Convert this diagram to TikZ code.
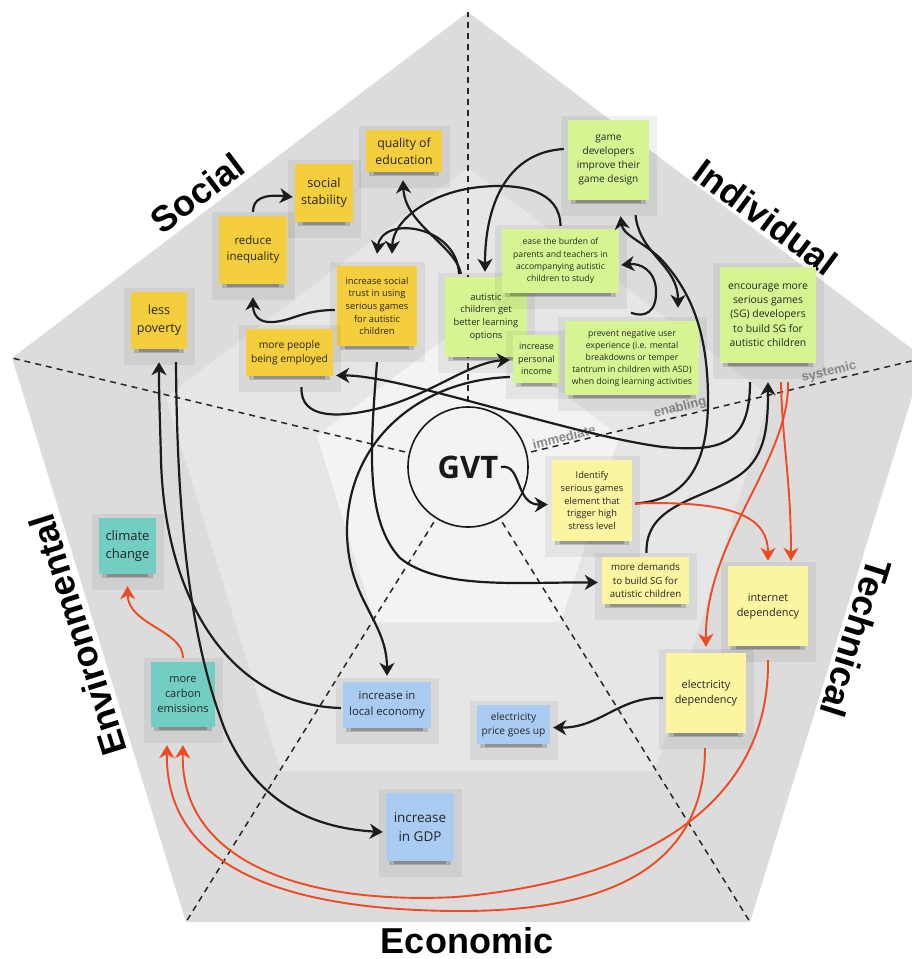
\documentclass[tikz,border=0pt]{standalone}
\usepackage{fontspec}
\setmainfont{Open Sans}
\newfontfamily\labfont{Liberation Sans}
\usetikzlibrary{arrows.meta,calc}
\definecolor{socc}{HTML}{F5CE3E}
\definecolor{indc}{HTML}{D6F592}
\definecolor{tecc}{HTML}{FBF4A0}
\definecolor{ecoc}{HTML}{AACBF2}
\definecolor{envc}{HTML}{72CDC3}
\definecolor{notetext}{HTML}{262626}
\definecolor{arrowblack}{HTML}{1C1C1C}
\definecolor{redline}{HTML}{F04A22}
\definecolor{bgouter}{HTML}{DCDCDC}
\definecolor{bgmid}{HTML}{E6E6E6}
\definecolor{bginner}{HTML}{F3F3F3}
\definecolor{lvlgray}{HTML}{8A8A8A}
\tikzset{
  notebox/.style={inner sep=1pt, align=center, text=notetext},
  blk/.style={line width=2.2pt, draw=arrowblack, -{Stealth[length=13pt,width=15pt,inset=4pt]}},
  redarr/.style={line width=1.9pt, draw=redline, -{Stealth[length=13pt,width=15pt,inset=4pt]}},
  dashline/.style={line width=1.5pt, draw=black!85, dash pattern=on 6pt off 5pt},
  biglab/.style={font=\labfont\bfseries\fontsize{36}{40}\selectfont, text=black, inner sep=0pt},
  lvl/.style={font=\labfont\bfseries\fontsize{13}{15}\selectfont, text=lvlgray, inner sep=0pt}
}
% name, x0, y0, x1, y1, colour, font size, baselineskip, text
\newcommand\stickynote[9]{%
  \fill[black,opacity=0.06] (#2-7,#3-4) rectangle (#4+8,#5+16);
  \fill[black,opacity=0.16] (#2+3,#5-1) rectangle (#4-3,#5+4);
  \fill[black,opacity=0.2] (#2+8,#5) rectangle (#4-8,#5+2.5);
  \node[notebox, fill=#6, minimum width={(#4-#2)*1pt}, minimum height={(#5-#3)*1pt},
        font={\fontsize{#7}{#8}\selectfont}] (#1) at ({(#2+#4)/2},{(#3+#5)/2}) {#9};
}
\begin{document}
\begin{tikzpicture}[x=1pt,y=-1pt]
\useasboundingbox (0,0) rectangle (912,959);
\clip (0,0) rectangle (912,959);
\fill[white] (0,0) rectangle (912,959);
% pentagons
\coordinate (vt) at (468,12);
\coordinate (vr) at (924,358);
\coordinate (vbr) at (750,922);
\coordinate (vbl) at (186,922);
\coordinate (vl) at (12,358);
\fill[bgouter] (vt) -- (vr) -- (vbr) -- (vbl) -- (vl) -- cycle;
\fill[bgmid] (468,168) -- (770,397) -- (655,771) -- (281,771) -- (166,397) -- cycle;
\fill[bginner] (468,321) -- (619,436) -- (561,622) -- (375,622) -- (317,436) -- cycle;
% GVT circle and dashed lines
\node[circle, draw=black!90, line width=1.6pt, minimum size=120pt, inner sep=0pt,
      font=\bfseries\fontsize{31}{34}\selectfont, text=black!90] (gvt) at (468,467) {GVT};
\foreach \v in {vt,vr,vbr,vbl,vl}{
  \draw[dashline] ($(gvt.center)!65pt!(\v)$) -- (\v);
}
\node[lvl, rotate=13.5] (limm) at (564,437) {immediate};
\node[lvl, rotate=13.5] (lena) at (680,408) {enabling};
\node[lvl, rotate=13.5] (lsys) at (829,372) {systemic};
% dimension labels
\node[biglab, rotate=37] (lsoc) at (197,193) {Social};
\node[biglab, rotate=-36.5] (lind) at (766,217) {Individual};
\node[biglab, rotate=-107.5] (ltec) at (856,638) {Technical};
\node[biglab, rotate=107.5] (lenv) at (78,635) {Environmental};
\node[biglab] (leco) at (467,941) {Economic};
% sticky notes
\stickynote{qual}{366}{130}{442}{172}{socc}{12.3}{17}{quality of\\education}
\stickynote{stab}{295}{164}{353}{222}{socc}{12.7}{17.3}{social\\stability}
\stickynote{ineq}{219}{216}{287}{284}{socc}{11.5}{16}{reduce\\inequality}
\stickynote{pov}{131}{292}{187}{349}{socc}{12.6}{18.3}{less\\poverty}
\stickynote{trust}{337}{266}{417}{346}{socc}{9.3}{12.7}{increase social\\trust in using\\serious games\\for autistic\\children}
\stickynote{empl}{246}{329}{333}{376}{socc}{10.3}{14}{more people\\being employed}
\stickynote{auti}{445}{277}{527}{357}{indc}{9.35}{12.7}{autistic\\children get\\better learning\\options}
\stickynote{inc}{513}{335}{560}{383}{indc}{9}{12.7}{increase\\personal\\income}
\stickynote{ease}{502}{229}{619}{293}{indc}{8.6}{12.3}{ease the burden of\\parents and teachers in\\accompanying autistic\\children to study}
\stickynote{gdev}{568}{120}{649}{200}{indc}{10.1}{14}{game\\developers\\improve their\\game design}
\stickynote{prev}{565}{321}{699}{395}{indc}{8.7}{12}{prevent negative user\\experience (i.e. mental\\breakdowns or temper\\tantrum in children with ASD)\\when doing learning activities}
\stickynote{enc}{720}{267}{816}{363}{indc}{10.4}{14.3}{encourage more\\serious games\\(SG) developers\\to build SG for\\autistic children}
\stickynote{ident}{552}{460}{632}{541}{tecc}{9.3}{12.7}{Identify\\serious games\\element that\\trigger high\\stress level}
\stickynote{dem}{602}{557}{689}{604}{tecc}{9.7}{13.3}{more demands\\to build SG for\\autistic children}
\stickynote{inet}{728}{566}{808}{646}{tecc}{10.9}{15.3}{internet\\dependency}
\stickynote{elec}{666}{653}{746}{733}{tecc}{10.9}{15.3}{electricity\\dependency}
\stickynote{price}{477}{705}{550}{744}{ecoc}{10.2}{14}{electricity\\price goes up}
\stickynote{local}{343}{682}{431}{728}{ecoc}{11.3}{16}{increase in\\local economy}
\stickynote{gdp}{386}{793}{454}{861}{ecoc}{13.5}{19}{increase\\in GDP}
\stickynote{clim}{99}{518}{156}{574}{envc}{13}{18}{climate\\change}
\stickynote{carb}{151}{662}{215}{727}{envc}{11}{15.3}{more\\carbon\\emissions}
% black connectors
\draw[blk] ($(ineq.north)+(0,-4)$) .. controls (253,199) and (263,194) .. ($(stab.west)+(-2,4)$);
\draw[blk] ($(trust.west)+(-2,4)$) .. controls (300,310) and (290,323) .. (268,322) .. controls (256,321) and (253,312) .. ($(ineq.south)+(0,13)$);
\draw[blk] ($(auti.north)+(-25,-3)$) .. controls (455,245) and (405,225) .. ($(qual.south)+(-1,8)$);
\draw[blk] ($(auti.north)+(-27,-3)$) .. controls (457,225) and (382,215) .. ($(trust.north)+(0,-12)$);
\draw[blk] ($(ease.north)+(0,-3)$) .. controls (560,190) and (520,183) .. (480,187) .. controls (430,192) and (393,220) .. ($(trust.north)+(15,-12)$);
\draw[blk] ($(gdev.west)+(-4,-11)$) .. controls (510,152) and (485,200) .. ($(auti.north)+(-1,-5)$);
\draw[blk] ($(gdev.south)+(27,15)$) .. controls (640,255) and (678,265) .. ($(prev.north)+(46,-13)$);
\draw[blk] ($(prev.north)+(-1,-8)$) .. controls (645,318) and (657,312) .. (656,290) .. controls (655,270) and (640,263) .. ($(ease.east)+(2,4)$);
\draw[blk] ($(ident.east)+(3,3)$) .. controls (690,500) and (708,460) .. (708,400) .. controls (708,330) and (690,290) .. (660,258) .. controls (640,240) and (623,235) .. ($(gdev.south)+(12,16)$);
\draw[blk] ($(empl.south)+(12,11)$) .. controls (300,420) and (340,418) .. (380,408) .. controls (430,395) and (470,362) .. ($(inc.west)+(-3,1)$);
\draw[blk] ($(enc.south)+(-18,19)$) .. controls (750,445) and (720,452) .. (663,447) .. controls (570,435) and (400,375) .. ($(empl.east)+(3,23)$);
\draw[blk] ($(gvt.center)+(33,0)$) .. controls (522,463) and (515,505) .. ($(ident.west)+(-4,4)$);
\draw[blk] ($(dem.north)+(1,-4)$) .. controls (645,505) and (700,500) .. (735,478) .. controls (765,460) and (768,430) .. ($(enc.south)+(0,19)$);
\draw[blk] ($(trust.south)+(0,16)$) .. controls (370,450) and (365,520) .. (400,558) .. controls (440,590) and (520,582) .. ($(dem.west)+(-4,2)$);
\draw[blk] ($(inc.west)+(-3,18)$) .. controls (420,380) and (348,440) .. (347,530) .. controls (347,600) and (387,620) .. ($(local.north)+(0,-6)$);
\draw[blk] ($(local.west)+(-2,3)$) .. controls (230,705) and (165,600) .. (161,460) .. controls (160,420) and (159,400) .. ($(pov.south)+(0,13)$);
\draw[blk] ($(pov.south)+(17,13)$) .. controls (177,520) and (190,640) .. (225,730) .. controls (255,800) and (310,828) .. ($(gdp.west)+(-3,5)$);
\draw[blk] ($(elec.west)+(-3,5)$) .. controls (620,696) and (600,728) .. ($(price.east)+(3,3)$);
% red connectors
\draw[redarr] ($(ident.east)+(3,3)$) .. controls (740,500) and (768,520) .. ($(inet.north)+(0,-5)$);
\draw[redarr] ($(enc.south)+(13,19)$) .. controls (782,440) and (791,480) .. ($(inet.north)+(23,-5)$);
\draw[redarr] ($(enc.south)+(20,19)$) .. controls (790,460) and (705,540) .. ($(elec.north)+(0,-6)$);
\draw[redarr] ($(inet.south)+(0,14)$) .. controls (770,800) and (650,880) .. (456,897) .. controls (300,905) and (180,860) .. ($(carb.south)+(0,18)$);
\draw[redarr] ($(elec.south)+(-1,15)$) .. controls (705,860) and (620,912) .. (456,911) .. controls (290,910) and (165,870) .. ($(carb.south)+(-16,18)$);
\draw[redarr] ($(carb.north)+(0,-4)$) .. controls (183,630) and (128,625) .. ($(clim.south)+(0,12)$);
\end{tikzpicture}
\end{document}
